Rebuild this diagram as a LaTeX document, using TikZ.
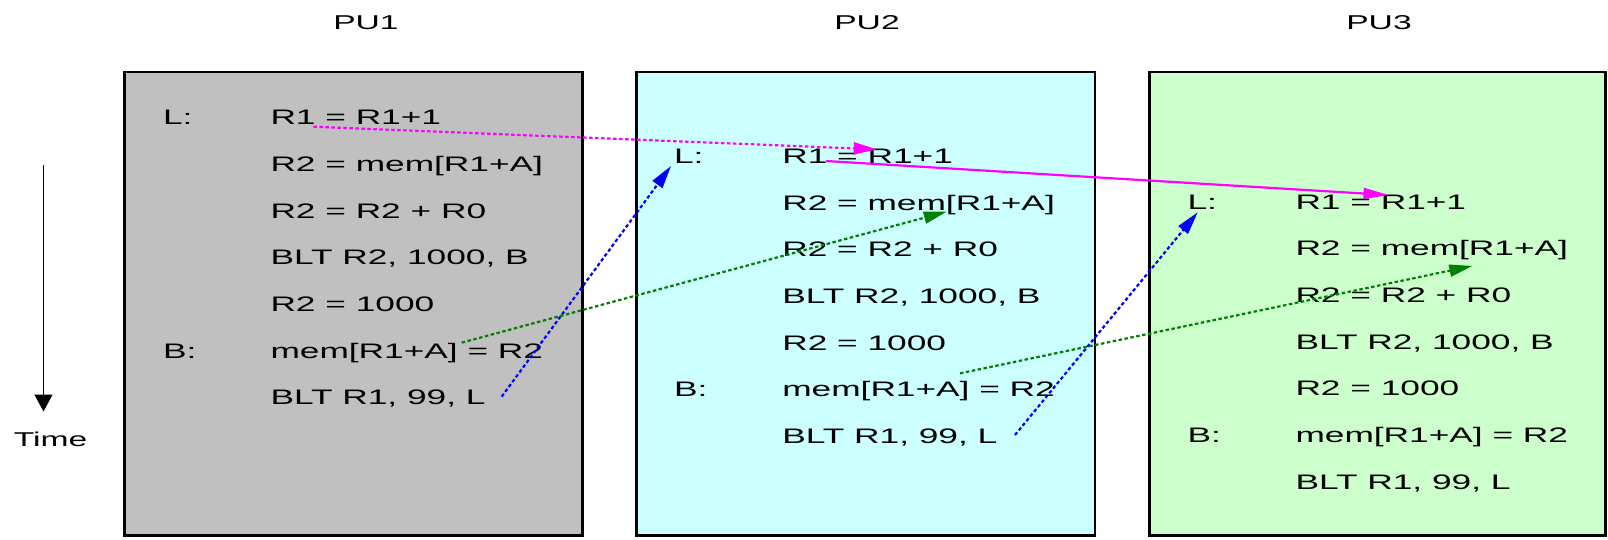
\documentclass[tikz,border=0pt]{standalone}
\usepackage{fontspec}
\setmainfont{Liberation Sans}[FakeStretch=1.68]
\usetikzlibrary{arrows.meta}

\definecolor{pugray}{HTML}{C0C0C0}
\definecolor{pucyan}{HTML}{CCFFFF}
\definecolor{pugreen}{HTML}{CCFFCC}
\definecolor{flowmag}{HTML}{FF00FF}
\definecolor{flowblue}{HTML}{0000FF}
\definecolor{flowgreen}{HTML}{008000}

\newcommand\codefont{\fontsize{21}{25}\selectfont}
\newcommand\headfont{\fontsize{20}{24}\selectfont}

\tikzset{
  pubox/.style={draw=black, line width=2.2pt, anchor=north west, inner sep=0pt,
                outer sep=0pt, minimum height=463.5pt},
  code/.style={anchor=base west, inner sep=0pt, outer sep=0pt, font=\codefont},
  head/.style={anchor=base, inner sep=0pt, font=\headfont},
  flow/.style={line width=2.2pt, dash pattern=on 3.5pt off 2.5pt,
               -{Triangle[length=23pt,width=12pt]}},
  flowsolid/.style={line width=2.2pt, -{Triangle[length=25pt,width=11pt]}},
}

% one processing unit's program: #1 name prefix, #2 x of labels,
% #3 x of instructions, #4 baseline of the first line
\newcommand\puprog[4]{%
  \node[code] (#1L)  at (#2,#4) {L:};
  \node[code] (#1r1) at (#3,#4) {R1 = R1+1};
  \node[code] (#1r2) at (#3,#4+46.65) {R2 = mem[R1+A]};
  \node[code] (#1r3) at (#3,#4+2*46.65) {R2 = R2 + R0};
  \node[code] (#1r4) at (#3,#4+3*46.65) {BLT R2, 1000, B};
  \node[code] (#1r5) at (#3,#4+4*46.65) {R2 = 1000};
  \node[code] (#1B)  at (#2,#4+5*46.65) {B:};
  \node[code] (#1r6) at (#3,#4+5*46.65) {mem[R1+A] = R2};
  \node[code] (#1r7) at (#3,#4+6*46.65) {BLT R1, 99, L};
}

\begin{document}
\begin{tikzpicture}[x=1pt, y=-1pt]
  \useasboundingbox (0,0) rectangle (1608,540);

  % processing unit frames
  \node[pubox, fill=pugray,  minimum width=458pt]   (pu1) at (124.5,72) {};
  \node[pubox, fill=pucyan,  minimum width=458.5pt] (pu2) at (636.5,72) {};
  \node[pubox, fill=pugreen, minimum width=456pt]   (pu3) at (1149.5,72) {};

  % headings
  \node[head] (h1) at (366,29.3) {PU1};
  \node[head] (h2) at (867,29.3) {PU2};
  \node[head] (h3) at (1379,29.3) {PU3};

  % time axis
  \coordinate (t0) at (43.5,165);
  \coordinate (t1) at (43.5,411.5);
  \draw[line width=1.4pt, -{Triangle[length=17pt,width=18pt]}] (t0) -- (t1);
  \node[head] (time) at (50.5,446) {Time};

  % programs
  \puprog{a}{163}{270.5}{125}
  \puprog{b}{674}{782.3}{163.5}
  \puprog{c}{1187.5}{1295.5}{209.3}

  % end points of the dependences
  \coordinate (m1s) at ([shift={(42.8,1.7)}]ar1.base west);
  \coordinate (m1e) at ([shift={(94.4,-14.2)}]br1.base west);
  \coordinate (m2s) at ([shift={(43.7,-2.5)}]br1.base west);
  \coordinate (m2e) at ([shift={(93,-14.3)}]cr1.base west);
  \coordinate (b1s) at ([shift={(231.2,-8.3)}]ar7.base west);
  \coordinate (b1e) at ([shift={(-3,2.5)}]bL.base west);
  \coordinate (b2s) at ([shift={(232.7,-8.4)}]br7.base west);
  \coordinate (b2e) at ([shift={(10.2,3)}]cL.base west);
  \coordinate (g1s) at ([shift={(191.2,-15.6)}]ar6.base west);
  \coordinate (g1e) at ([shift={(164.4,1.5)}]br2.base west);
  \coordinate (g2s) at ([shift={(177.7,-23.4)}]br6.base west);
  \coordinate (g2e) at ([shift={(176.8,10)}]cr2.base west);

  % dependences between the units
  \draw[flow, flowmag]      (m1s) -- (m1e);
  \draw[flowsolid, flowmag] (m2s) -- (m2e);
  \draw[flow, flowblue]     (b1s) -- (b1e);
  \draw[flow, flowblue]     (b2s) -- (b2e);
  \draw[flow, flowgreen]    (g1s) -- (g1e);
  \draw[flow, flowgreen]    (g2s) -- (g2e);
\end{tikzpicture}
\end{document}
